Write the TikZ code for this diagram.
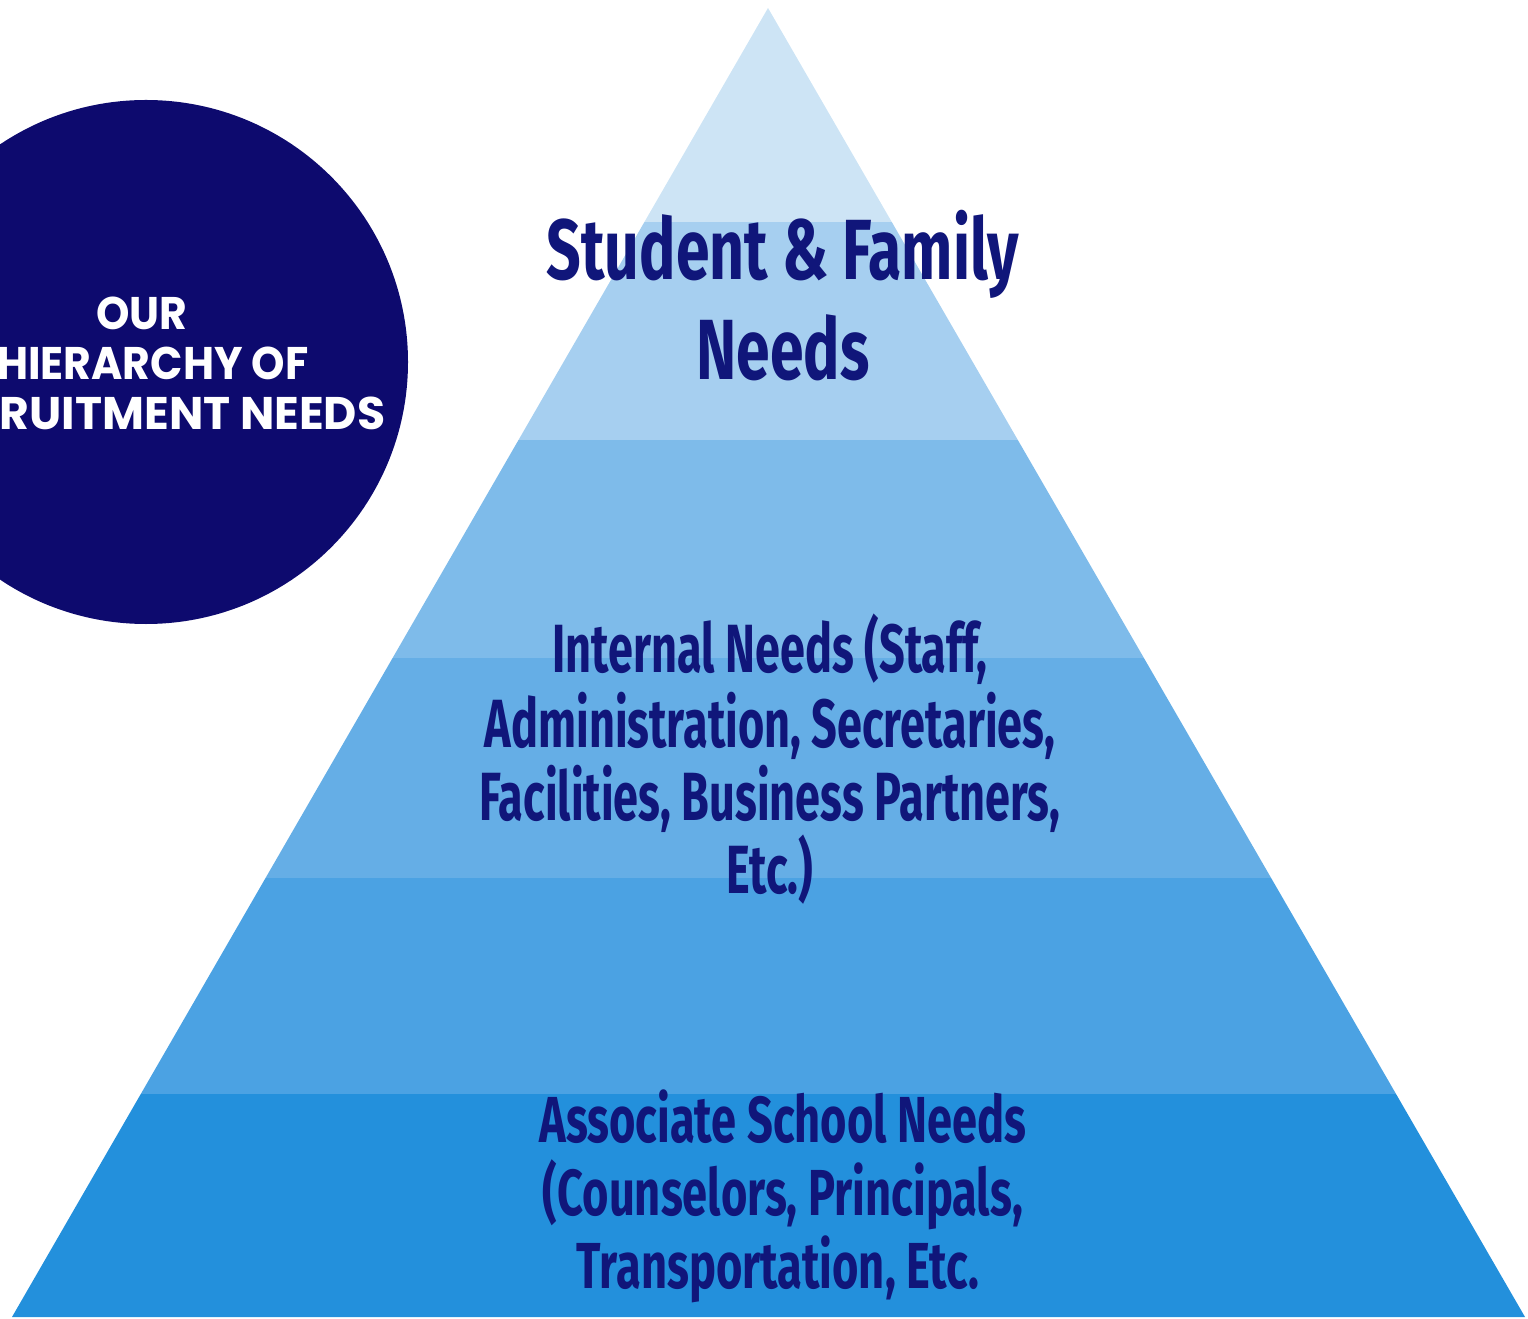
\documentclass[tikz,border=0pt]{standalone}
\usepackage{fontspec}
\newfontfamily\bigpyr[FakeStretch=0.71]{Fira Sans}
\newfontfamily\intpyr[FakeStretch=0.66]{Fira Sans}
\newfontfamily\asspyr[FakeStretch=0.695]{Fira Sans}
\newfontfamily\circfont[FakeStretch=0.93]{Poppins}
\newfontfamily\circwide{Poppins}
\definecolor{bandA}{HTML}{CDE4F5}
\definecolor{bandB}{HTML}{A6CFF0}
\definecolor{bandC}{HTML}{7EBBEA}
\definecolor{bandD}{HTML}{65AEE6}
\definecolor{bandE}{HTML}{4BA2E3}
\definecolor{bandF}{HTML}{2390DC}
\definecolor{navytext}{HTML}{10167A}
\definecolor{circnavy}{HTML}{0D0A6E}
\begin{document}
\begin{tikzpicture}[x=0.01cm,y=-0.01cm,
  bigline/.style={anchor=base,inner sep=0pt,text=navytext,font=\bigpyr\bfseries\fontsize{24.3pt}{28pt}\selectfont},
  intline/.style={anchor=base,inner sep=0pt,text=navytext,font=\intpyr\bfseries\fontsize{19.4pt}{22pt}\selectfont},
  assline/.style={anchor=base,inner sep=0pt,text=navytext,font=\asspyr\bfseries\fontsize{18.5pt}{22pt}\selectfont},
  circline/.style={anchor=base east,inner sep=0pt,text=white,font=\circfont\bfseries\fontsize{13pt}{15pt}\selectfont},
  circlinewide/.style={circline,font=\circwide\bfseries\fontsize{13pt}{15pt}\selectfont}]
\useasboundingbox (0,0) rectangle (1528,1319);
\clip (0,0) rectangle (1528,1319);
% pyramid bands
\coordinate (apex) at (768,8);
\coordinate (bl) at (12,1317);
\coordinate (br) at (1525,1317);
\begin{scope}
\clip (apex) -- (bl) -- (br) -- cycle;
\fill[bandA] (0,0) rectangle (1528,222);
\fill[bandB] (0,222) rectangle (1528,440);
\fill[bandC] (0,440) rectangle (1528,658);
\fill[bandD] (0,658) rectangle (1528,878);
\fill[bandE] (0,878) rectangle (1528,1094);
\fill[bandF] (0,1094) rectangle (1528,1319);
\end{scope}
% circle
\fill[circnavy] (146,362) circle (262);
\node[circline] (c1) at (188,330) {OUR};
\node[circline] (c2) at (309,380) {HIERARCHY OF};
\node[circlinewide] (c3) at (386,430) {RECRUITMENT NEEDS};
% texts
\node[bigline] (s1) at (783,280) {Student \& Family};
\node[bigline] (s2) at (783,380) {Needs};
\node[intline] (i1) at (770,672) {Internal Needs (Staff,};
\node[intline] (i2) at (770,747) {Administration, Secretaries,};
\node[intline] (i3) at (770,820) {Facilities, Business Partners,};
\node[intline] (i4) at (770,893) {Etc.)};
\node[assline] (a1) at (783,1142) {Associate School Needs};
\node[assline] (a2) at (783,1215) {(Counselors, Principals,};
\node[assline] (a3) at (778,1288) {Transportation, Etc.};
\end{tikzpicture}
\end{document}
